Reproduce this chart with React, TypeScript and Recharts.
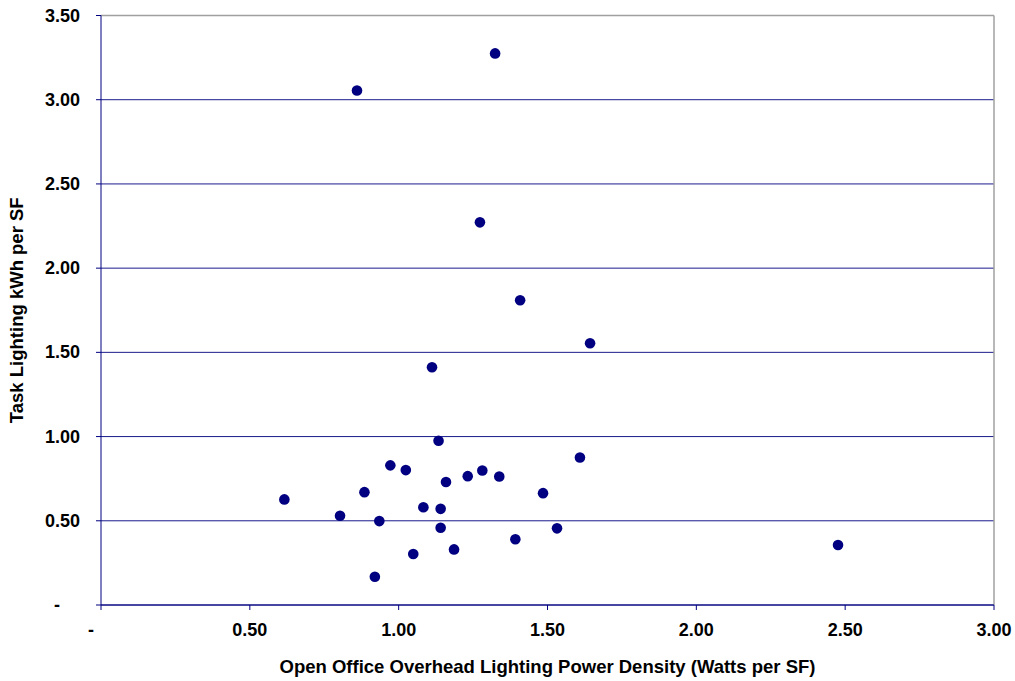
import { CartesianGrid, ReferenceLine, Scatter, ScatterChart, XAxis, YAxis } from "recharts";

const CHART_WIDTH = 1015;
const CHART_HEIGHT = 681;
const NAVY = "#000080";
const FONT = "Arial, 'Liberation Sans', sans-serif";

// Open office overhead lighting power density (W/SF)
const overheadLpd = [
  0.86, 1.324, 1.273, 1.408, 1.643, 1.112, 1.134, 1.609, 0.972, 1.024,
  1.281, 1.232, 1.338, 1.159, 0.885, 1.485, 0.616, 1.083, 1.141, 0.803,
  0.935, 1.141, 1.532, 1.392, 2.476, 1.186, 1.049, 0.92,
];

// Task lighting kWh per SF
const taskKwh = [
  3.055, 3.275, 2.272, 1.809, 1.554, 1.412, 0.975, 0.876, 0.829, 0.801,
  0.799, 0.765, 0.763, 0.73, 0.67, 0.664, 0.627, 0.58, 0.571, 0.53,
  0.498, 0.459, 0.455, 0.39, 0.356, 0.33, 0.303, 0.168,
];

const xTicks = [0, 0.5, 1, 1.5, 2, 2.5, 3];
const yTicks = [0, 0.5, 1, 1.5, 2, 2.5, 3, 3.5];

const points = overheadLpd.map((x, i) => ({ x, y: taskKwh[i] }));

function formatTick(v: number): string {
  return v === 0 ? "-" : v.toFixed(2);
}

function XTick(props: any) {
  const { x, y, payload } = props;
  const zero = payload.value === 0;
  return (
    <text
      x={zero ? x - 10 : x}
      y={y + 24}
      textAnchor="middle"
      fontFamily={FONT}
      fontSize={18}
      fontWeight="bold"
      fill="#000"
    >
      {formatTick(payload.value)}
    </text>
  );
}

function YTick(props: any) {
  const { y, payload } = props;
  const zero = payload.value === 0;
  return (
    <text
      x={zero ? 60 : 80}
      y={y + 6}
      textAnchor="end"
      fontFamily={FONT}
      fontSize={18}
      fontWeight="bold"
      fill="#000"
    >
      {formatTick(payload.value)}
    </text>
  );
}

function Dot(props: any) {
  return <circle cx={props.cx} cy={props.cy} r={5.3} fill={NAVY} />;
}

export default function App() {
  return (
    <div style={{ position: "absolute", left: 0, top: 0, background: "#fff" }}>
      <ScatterChart
        width={CHART_WIDTH}
        height={CHART_HEIGHT}
        margin={{ top: 15.5, right: 21, bottom: 0, left: 0 }}
      >
        <CartesianGrid horizontal vertical={false} stroke={NAVY} strokeOpacity={0.9} />
        <XAxis
          type="number"
          dataKey="x"
          domain={[0, 3]}
          ticks={xTicks}
          interval={0}
          height={76}
          stroke={NAVY}
          tickSize={5}
          tick={<XTick />}
          label={{
            value: "Open Office Overhead Lighting Power Density (Watts per SF)",
            position: "insideBottom",
            offset: 8,
            fontFamily: FONT,
            fontSize: 18.5,
            fontWeight: "bold",
            fill: "#000",
          }}
        />
        <YAxis
          type="number"
          dataKey="y"
          domain={[0, 3.5]}
          ticks={yTicks}
          interval={0}
          width={101}
          stroke={NAVY}
          tickSize={5}
          tick={<YTick />}
          label={{
            value: "Task Lighting kWh per SF",
            angle: -90,
            position: "insideLeft",
            offset: 16,
            style: { textAnchor: "middle" },
            fontFamily: FONT,
            fontSize: 18.5,
            fontWeight: "bold",
            fill: "#000",
          }}
        />
        <ReferenceLine y={3.5} stroke="#a0a0a0" strokeWidth={1.5} />
        <ReferenceLine x={3} stroke="#a0a0a0" strokeWidth={1.5} />
        <Scatter data={points} shape={<Dot />} isAnimationActive={false} />
      </ScatterChart>
    </div>
  );
}
